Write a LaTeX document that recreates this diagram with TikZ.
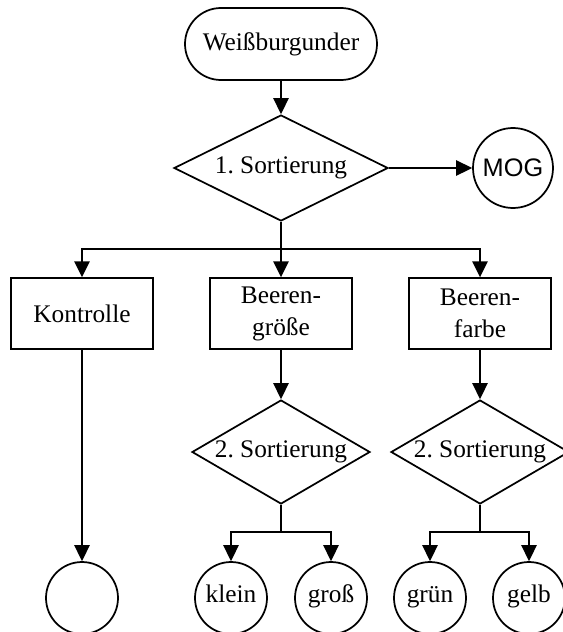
\documentclass[tikz,border=0pt]{standalone}
\usepackage{fontspec}
\setmainfont{Liberation Serif}
\setsansfont{Liberation Sans}
\usetikzlibrary{shapes.geometric,arrows.meta}

\tikzset{every picture/.style={line width=1.3pt}}
\tikzset{
	base/.style={draw, font=\fontsize{19}{24}\selectfont, inner sep=0pt, align=center},
	startnode/.style={base, rounded corners=27pt, minimum width=144pt, minimum height=54pt},
	decision/.style={base, diamond, aspect=2},
	procbox/.style={base, rectangle, minimum width=107pt, minimum height=53pt},
	outnode/.style={base, circle, minimum size=60pt, font=\fontsize{19}{24}\sffamily},
	endnode/.style={base, circle, minimum size=54pt, text height=0.95em, text depth=0.22em},
	arr/.style={-{Triangle[length=12pt,width=11.5pt]}}
}

\begin{document}
\begin{tikzpicture}[x=0.75pt,y=0.75pt,yscale=-1,xscale=1]
	\useasboundingbox (0,0) rectangle (563,632);

	\node [startnode] (wb) at (281,44) {Weißburgunder};
	\node [decision, minimum width=160.5pt, minimum height=79.5pt] (sort1) at (281,168) {1.\ Sortierung};
	\node [outnode] (mog) at (513,168) {MOG};

	\coordinate (split1) at (281,249);
	\node [procbox] (kontrolle) at (82,313.5) {Kontrolle};
	\node [procbox] (groesse) at (281,313.5) {Beeren-\\größe};
	\node [procbox] (farbe) at (480,313.5) {Beeren-\\farbe};

	\node [decision, minimum width=133.5pt, minimum height=78pt] (sort2a) at (281,452) {2.\ Sortierung};
	\node [decision, minimum width=133.5pt, minimum height=78pt] (sort2b) at (480,452) {2.\ Sortierung};
	\coordinate (split2a) at (281,532);
	\coordinate (split2b) at (480,532);

	\node [endnode] (leer) at (82,598) {};
	\node [endnode] (klein) at (231,598) {klein};
	\node [endnode] (gross) at (331,598) {groß};
	\node [endnode] (gruen) at (430,598) {grün};
	\node [endnode] (gelb) at (529,598) {gelb};

	\draw [arr] (wb) -- (sort1);
	\draw [arr] (sort1) -- (mog);
	\draw [arr] (sort1.south) -- (split1) -| (kontrolle.north);
	\draw [arr] (split1) -| (farbe.north);
	\draw [arr] (split1) -- (groesse);

	\draw [arr] (kontrolle) -- (leer);
	\draw [arr] (groesse) -- (sort2a);
	\draw [arr] (farbe) -- (sort2b);

	\draw [arr] (sort2a.south) -- (split2a) -| (klein.north);
	\draw [arr] (split2a) -| (gross.north);
	\draw [arr] (sort2b.south) -- (split2b) -| (gruen.north);
	\draw [arr] (split2b) -| (gelb.north);
\end{tikzpicture}
\end{document}
